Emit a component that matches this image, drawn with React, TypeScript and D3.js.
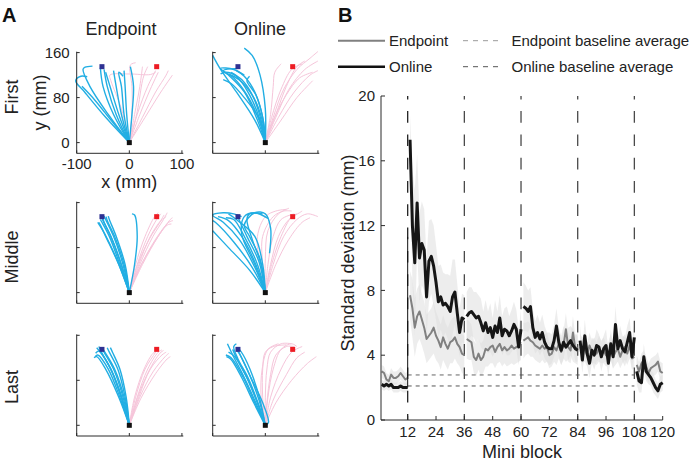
import React from "react";
import * as d3 from "d3";

// ---------- Panel B data ----------
const blockStarts = [1, 13, 37, 61, 85, 109];
const blockEnds = [12, 36, 60, 84, 108, 120];
const xTicksB = [12, 24, 36, 48, 60, 72, 84, 96, 108, 120];
const yTicksB = [0, 4, 8, 12, 16, 20];
const blockBoundaries = [12, 36, 60, 84, 108];
const endpointBaseline = 2.78;
const onlineBaseline = 2.1;

const endpointSD = [
  3.0, 2.9, 2.5, 2.4, 2.8, 2.6, 2.6, 2.7, 2.9, 2.7, 2.5, 2.6,
  7.7, 6.9, 5.7, 6.4, 6.7, 6.2, 5.7, 5.0, 5.2, 5.4, 5.7, 5.2, 4.9, 4.5, 5.1, 4.7, 4.4, 4.8, 4.9, 5.1, 4.7, 4.5, 4.1, 4.0,
  5.0, 4.9, 4.8, 3.9, 3.7, 4.1, 3.7, 3.9, 4.4, 4.3, 4.5, 4.6, 4.2, 4.5, 4.7, 4.3, 4.5, 4.3, 4.4, 4.6, 4.4, 4.5, 4.6, 4.8,
  4.9, 5.0, 5.1, 4.9, 4.8, 4.6, 4.5, 4.4, 4.6, 4.4, 4.5, 4.0, 4.1, 4.5, 4.3, 4.7, 4.2, 4.6, 5.6, 4.5, 4.3, 5.4, 4.4, 4.5,
  4.5, 4.3, 4.4, 4.0, 4.6, 4.2, 4.3, 4.1, 4.4, 4.2, 4.3, 4.0, 4.1, 4.5, 3.9, 4.2, 4.4, 3.9, 4.3, 4.5, 4.1, 4.6, 3.8, 3.9,
  3.4, 3.0, 3.5, 3.7, 3.3, 2.9, 3.2, 3.3, 3.4, 3.6, 3.0, 2.9,
];
const onlineSD = [
  2.2, 2.1, 2.2, 2.1, 2.2, 2.0, 2.0, 2.0, 2.1, 2.0, 2.0, 2.0,
  17.3, 12.0, 9.7, 13.4, 10.0, 10.9, 10.5, 7.6, 9.8, 10.1, 9.5, 8.5, 7.3, 7.6, 7.1, 7.2, 7.0, 6.7, 7.6, 7.9, 6.6, 5.4, 6.3, 6.2,
  6.4, 6.6, 6.7, 6.5, 6.3, 6.4, 6.0, 5.5, 6.0, 5.4, 5.7, 5.1, 5.8, 5.4, 6.3, 5.2, 5.6, 5.5, 5.2, 5.5, 5.9, 5.6, 4.5, 5.6,
  7.0, 6.9, 6.7, 7.0, 5.7, 5.1, 5.4, 5.0, 5.4, 4.8, 4.5, 4.4, 4.4, 4.9, 5.8, 4.8, 4.3, 4.8, 4.5, 4.7, 4.9, 4.6, 4.4, 4.3,
  4.9, 3.7, 5.2, 4.1, 3.5, 4.3, 4.0, 4.6, 4.5, 3.9, 4.4, 4.6, 3.5, 4.7, 3.9, 5.9, 4.4, 4.9, 4.4, 4.2, 4.8, 5.4, 3.9, 5.1,
  3.0, 2.4, 2.3, 3.9, 3.0, 2.8, 2.6, 2.3, 2.0, 1.8, 2.2, 2.3,
];
const onlineSpread = [
  0.3, 0.3, 0.3, 0.3, 0.3, 0.3, 0.3, 0.3, 0.3, 0.3, 0.3, 0.3,
  1.5, 3.5, 4.5, 3.0, 2.8, 2.6, 2.5, 2.4, 2.5, 2.3, 2.5, 2.3, 2.2, 2.0, 2.0, 1.8, 2.0, 2.2, 2.3, 2.0, 1.8, 1.5, 1.5, 1.5,
  1.5, 1.6, 1.5, 1.4, 1.6, 1.3, 1.5, 1.2, 1.4, 1.3, 1.5, 1.2, 1.6, 1.3, 1.4, 1.2, 1.3, 1.5, 1.2, 1.3, 1.4, 1.2, 1.1, 1.2,
  1.5, 1.4, 1.3, 1.2, 1.1, 1.0, 1.1, 1.0, 1.1, 1.0, 0.9, 1.0, 0.9, 1.0, 1.1, 0.9, 0.9, 1.0, 0.9, 1.0, 0.9, 1.0, 0.9, 0.9,
  0.9, 0.8, 1.0, 0.8, 0.9, 0.8, 0.9, 1.0, 0.8, 0.9, 0.8, 1.0, 0.8, 0.9, 0.8, 1.1, 0.8, 0.9, 0.8, 0.9, 1.0, 0.9, 0.8, 0.9,
  0.8, 0.7, 0.6, 0.8, 0.6, 0.6, 0.5, 0.6, 0.5, 0.5, 0.5, 0.5,
];
const endpointSpread = [
  0.4, 0.4, 0.4, 0.4, 0.4, 0.4, 0.4, 0.4, 0.4, 0.4, 0.4, 0.4,
  1.5, 1.8, 1.8, 1.7, 1.7, 1.6, 1.6, 1.5, 1.5, 1.5, 1.6, 1.5, 1.4, 1.4, 1.4, 1.3, 1.3, 1.3, 1.4, 1.3, 1.2, 1.2, 1.2, 1.2,
  1.2, 1.2, 1.1, 1.0, 1.0, 1.0, 1.0, 1.0, 1.1, 1.0, 1.0, 1.1, 1.0, 1.0, 1.1, 1.0, 1.0, 1.0, 1.0, 1.1, 1.0, 1.0, 1.0, 1.1,
  1.1, 1.0, 1.0, 1.0, 0.9, 0.9, 0.9, 0.9, 0.9, 0.9, 0.9, 0.8, 0.8, 0.9, 0.9, 0.9, 0.8, 0.9, 1.0, 0.9, 0.8, 1.0, 0.8, 0.9,
  0.8, 0.8, 0.8, 0.7, 0.8, 0.7, 0.8, 0.7, 0.8, 0.7, 0.8, 0.7, 0.7, 0.8, 0.7, 0.8, 0.8, 0.7, 0.8, 0.8, 0.7, 0.8, 0.7, 0.7,
  0.6, 0.6, 0.6, 0.6, 0.6, 0.6, 0.6, 0.6, 0.6, 0.6, 0.6, 0.6,
];

// ---------- Panel A data (trajectories in mm) ----------
type P = [number, number];
const targetLeft: P = [-52, 135];
const targetRight: P = [52, 135];
const startPos: P = [0, 0];
const xTicksA = [-100, 0, 100];
const yTicksA = [0, 80, 160];
const columnTitles = ["Endpoint", "Online"];
const rowTitles = ["First", "Middle", "Last"];

const endpointFirstBlue: P[][] = [
  [[0, 0], [-45, 45], [-85, 90], [-102, 110], [-92, 118], [-80, 117]],
  [[0, 0], [-40, 50], [-75, 100], [-88, 130], [-84, 134], [-70, 136]],
  [[0, 0], [-30, 50], [-50, 100], [-55, 133]],
  [[0, 0], [-25, 50], [-42, 100], [-48, 130]],
  [[0, 0], [-20, 50], [-35, 95], [-45, 125]],
  [[0, 0], [-15, 50], [-25, 100], [-30, 128]],
  [[0, 0], [-10, 50], [-15, 100], [-20, 125], [-12, 118]],
  [[0, 0], [-5, 50], [-8, 100], [-10, 128]],
  [[0, 0], [5, 50], [8, 100], [2, 135]],
  [[0, 0], [-35, 40], [-65, 75], [-90, 100]],
];
const endpointFirstPink: P[][] = [
  [[0, 0], [15, 50], [35, 100], [50, 128]],
  [[0, 0], [20, 50], [40, 95], [55, 125]],
  [[0, 0], [25, 45], [50, 90], [70, 120], [74, 128]],
  [[0, 0], [30, 45], [60, 90], [82, 120]],
  [[0, 0], [10, 50], [20, 100], [25, 135]],
  [[0, 0], [5, 50], [5, 100], [2, 138], [12, 142]],
  [[0, 0], [-15, 60], [-35, 110], [-37, 120], [0, 122], [40, 121], [50, 125]],
  [[0, 0], [15, 55], [25, 110], [30, 125], [35, 135]],
];
const onlineFirstBlue: P[][] = [
  [[0, 0], [-20, 40], [-55, 90], [-85, 130], [-100, 155]],
  [[0, 0], [-15, 40], [-40, 90], [-70, 120], [-85, 132], [-60, 130], [-40, 120]],
  [[0, 0], [-12, 40], [-35, 85], [-60, 115], [-80, 128], [-50, 132]],
  [[0, 0], [-10, 40], [-30, 85], [-55, 118], [-75, 125], [-85, 122]],
  [[0, 0], [-8, 40], [-25, 85], [-45, 112], [-65, 125]],
  [[0, 0], [-5, 45], [-20, 90], [-40, 118], [-55, 128]],
  [[0, 0], [-4, 40], [-18, 85], [-35, 110], [-30, 118]],
  [[0, 0], [0, 60], [-10, 120], [-25, 155], [-40, 168]],
  [[0, 0], [-10, 40], [-40, 80], [-65, 105], [-80, 112]],
  [[0, 0], [-6, 40], [-22, 80], [-50, 112], [-70, 122]],
];
const onlineFirstPink: P[][] = [
  [[0, 0], [10, 50], [15, 100], [18, 125], [30, 140]],
  [[0, 0], [15, 45], [35, 95], [60, 130], [85, 150], [100, 162]],
  [[0, 0], [20, 45], [45, 95], [75, 130], [100, 145]],
  [[0, 0], [25, 45], [55, 90], [85, 120], [100, 128]],
  [[0, 0], [15, 40], [40, 85], [65, 115], [90, 125]],
  [[0, 0], [20, 50], [40, 100], [60, 135], [75, 145]],
  [[0, 0], [12, 45], [30, 95], [50, 130], [70, 140]],
  [[0, 0], [30, 40], [60, 80], [90, 110]],
];
const endpointMiddleBlue: P[][] = [
  [[0, 0], [-15, 50], [-35, 100], [-50, 128], [-53, 135]],
  [[0, 0], [-18, 50], [-38, 100], [-52, 125], [-55, 130]],
  [[0, 0], [-12, 50], [-30, 100], [-45, 130], [-48, 136]],
  [[0, 0], [-10, 50], [-28, 100], [-42, 128], [-44, 135]],
  [[0, 0], [-20, 50], [-45, 100], [-55, 120], [-58, 125]],
  [[0, 0], [-8, 50], [-25, 100], [-38, 130], [-40, 136]],
  [[0, 0], [-14, 45], [-33, 95], [-48, 125], [-52, 138]],
  [[0, 0], [10, 50], [15, 100], [10, 138], [5, 140]],
  [[0, 0], [-22, 55], [-47, 105], [-60, 125]],
];
const endpointMiddlePink: P[][] = [
  [[0, 0], [15, 50], [35, 100], [52, 130], [60, 140]],
  [[0, 0], [20, 50], [45, 100], [65, 130], [72, 142]],
  [[0, 0], [22, 48], [50, 95], [75, 125], [83, 128]],
  [[0, 0], [18, 50], [40, 100], [60, 128], [70, 135]],
  [[0, 0], [25, 50], [55, 100], [78, 130], [82, 133]],
  [[0, 0], [12, 50], [30, 100], [48, 135], [55, 142]],
  [[0, 0], [20, 45], [48, 90], [72, 120], [80, 122]],
  [[0, 0], [16, 50], [38, 95], [58, 125], [66, 138]],
];
const onlineMiddleBlue: P[][] = [
  [[0, 0], [-30, 40], [-70, 80], [-100, 110]],
  [[0, 0], [-25, 45], [-60, 90], [-95, 125], [-100, 128]],
  [[0, 0], [-20, 45], [-50, 95], [-80, 125], [-100, 138], [-80, 142], [-60, 140], [-45, 135]],
  [[0, 0], [-18, 50], [-45, 100], [-70, 128], [-90, 135]],
  [[0, 0], [-15, 50], [-40, 100], [-60, 130], [-75, 133]],
  [[0, 0], [-12, 55], [-35, 100], [-50, 130], [-52, 135]],
  [[0, 0], [-10, 60], [-30, 100], [-40, 120], [-20, 142], [0, 140], [10, 115], [8, 70]],
  [[0, 0], [-8, 50], [-25, 95], [-35, 130], [-30, 140], [-5, 140]],
  [[0, 0], [-20, 50], [-45, 105], [-40, 135], [-20, 142], [5, 132]],
  [[0, 0], [-5, 50], [-20, 100], [-55, 130], [-70, 140]],
];
const onlineMiddlePink: P[][] = [
  [[0, 0], [-10, 50], [-15, 100], [0, 135], [20, 145], [40, 148]],
  [[0, 0], [-5, 50], [-5, 100], [15, 135], [35, 145], [50, 145]],
  [[0, 0], [10, 50], [25, 100], [45, 130], [65, 142], [70, 145]],
  [[0, 0], [15, 50], [35, 100], [60, 130], [80, 140], [100, 135]],
  [[0, 0], [5, 50], [15, 100], [30, 130], [55, 140]],
  [[0, 0], [20, 50], [45, 95], [70, 125], [85, 133]],
  [[0, 0], [0, 60], [5, 110], [25, 140], [45, 150]],
  [[0, 0], [12, 50], [30, 100], [50, 135], [60, 140]],
];
const endpointLastBlue: P[][] = [
  [[0, 0], [-15, 50], [-35, 100], [-55, 130], [-62, 138]],
  [[0, 0], [-18, 50], [-40, 100], [-60, 125], [-65, 122]],
  [[0, 0], [-12, 50], [-30, 100], [-48, 130], [-52, 138]],
  [[0, 0], [-10, 50], [-28, 100], [-45, 128], [-50, 135]],
  [[0, 0], [-20, 50], [-45, 100], [-62, 122], [-67, 120]],
  [[0, 0], [-8, 50], [-22, 100], [-38, 130], [-42, 138]],
  [[0, 0], [-14, 45], [-33, 95], [-50, 125], [-58, 140]],
  [[0, 0], [-6, 50], [-18, 100], [-32, 130], [-36, 138]],
  [[0, 0], [-16, 55], [-38, 105], [-58, 132], [-64, 128]],
];
const endpointLastPink: P[][] = [
  [[0, 0], [15, 50], [35, 100], [55, 130], [62, 134]],
  [[0, 0], [18, 50], [40, 100], [62, 125], [70, 130]],
  [[0, 0], [20, 50], [45, 95], [68, 122], [75, 128]],
  [[0, 0], [12, 50], [30, 100], [50, 130], [55, 138]],
  [[0, 0], [22, 48], [50, 92], [72, 118], [78, 122]],
  [[0, 0], [16, 50], [38, 98], [58, 128], [65, 133]],
  [[0, 0], [10, 50], [28, 100], [45, 128], [52, 132]],
];
const onlineLastBlue: P[][] = [
  [[0, 0], [-18, 40], [-40, 85], [-62, 125], [-72, 145]],
  [[0, 0], [-20, 40], [-42, 85], [-65, 120], [-75, 125]],
  [[0, 0], [-15, 40], [-35, 85], [-55, 120], [-62, 135]],
  [[0, 0], [-17, 45], [-38, 90], [-58, 122], [-70, 130]],
  [[0, 0], [-12, 45], [-30, 90], [-48, 125], [-55, 135]],
  [[0, 0], [-22, 40], [-45, 85], [-66, 118], [-74, 122]],
  [[0, 0], [-10, 45], [-25, 90], [-42, 125], [-52, 138]],
  [[0, 0], [-14, 40], [-33, 85], [-52, 118], [-60, 140], [-55, 145]],
  [[0, 0], [6, 5], [-5, 40], [-30, 90], [-50, 130]],
];
const onlineLastPink: P[][] = [
  [[0, 0], [-5, 50], [-5, 100], [0, 130], [15, 140], [40, 143]],
  [[0, 0], [0, 50], [3, 100], [10, 130], [30, 145], [50, 145]],
  [[0, 0], [5, 50], [15, 100], [30, 135], [50, 145], [60, 140]],
  [[0, 0], [10, 50], [30, 100], [50, 130], [70, 140]],
  [[0, 0], [20, 40], [50, 80], [80, 110], [97, 122]],
  [[0, 0], [15, 45], [40, 90], [60, 120], [75, 130]],
  [[0, 0], [-8, 50], [-6, 100], [5, 135], [25, 145]],
  [[0, 0], [3, 40], [10, 90], [20, 125], [40, 140], [55, 140]],
];

const trajectoryGrid = [
  [
    { blue: endpointFirstBlue, pink: endpointFirstPink },
    { blue: onlineFirstBlue, pink: onlineFirstPink },
  ],
  [
    { blue: endpointMiddleBlue, pink: endpointMiddlePink },
    { blue: onlineMiddleBlue, pink: onlineMiddlePink },
  ],
  [
    { blue: endpointLastBlue, pink: endpointLastPink },
    { blue: onlineLastBlue, pink: onlineLastPink },
  ],
];

const FONT = "'Liberation Sans', Arial, Helvetica, sans-serif";
const AXIS = "#2b2b2b";
const BLUE = "#22aee3";
const PINK = "#f6c5da";

// Panel A layout
const colLeft = [76.7, 212.7];
const rowBottom = [153.3, 303.3, 436];
const plotW = 106.6;
const plotH = 101.6;

function SmallPlot({ col, row }: { col: number; row: number }) {
  const left = colLeft[col];
  const bottom = rowBottom[row];
  const xs = d3.scaleLinear().domain([-100, 102.6]).range([left, left + plotW]);
  const ys = d3.scaleLinear().domain([-19, 161.6]).range([bottom, bottom - plotH]);
  const line = d3
    .line<P>()
    .x((d) => xs(d[0]))
    .y((d) => ys(d[1]))
    .curve(d3.curveCatmullRom.alpha(0.5));
  const data = trajectoryGrid[row][col];
  const labeled = row === 0 && col === 0;
  const sq = 5;
  return (
    <g>
      {data.pink.map((t, i) => (
        <path key={"p" + i} d={line(t) || ""} fill="none" stroke={PINK} strokeWidth={1} />
      ))}
      {data.blue.map((t, i) => (
        <path key={"b" + i} d={line(t) || ""} fill="none" stroke={BLUE} strokeWidth={1.4} />
      ))}
      <rect x={xs(targetLeft[0]) - sq / 2} y={ys(targetLeft[1]) - sq / 2} width={sq} height={sq} fill="#2e3192" />
      <rect x={xs(targetRight[0]) - sq / 2} y={ys(targetRight[1]) - sq / 2} width={sq} height={sq} fill="#ed1c24" />
      <rect x={xs(startPos[0]) - sq / 2} y={ys(startPos[1]) - sq / 2} width={sq} height={sq} fill="#111" />
      <line x1={left} x2={left + plotW} y1={bottom} y2={bottom} stroke={AXIS} strokeWidth={1} />
      <line x1={left} x2={left} y1={bottom} y2={bottom - plotH} stroke={AXIS} strokeWidth={1} />
      {yTicksA.map((t) => (
        <line key={"yt" + t} x1={left} x2={left + 3} y1={ys(t)} y2={ys(t)} stroke={AXIS} strokeWidth={1} />
      ))}
      {xTicksA.map((t) => (
        <line key={"xt" + t} x1={xs(t)} x2={xs(t)} y1={bottom} y2={bottom - 3} stroke={AXIS} strokeWidth={1} />
      ))}
      {labeled && (
        <g fontFamily={FONT} fill="#222">
          {yTicksA.map((t) => (
            <text key={"yl" + t} x={left - 7} y={ys(t)} dy="0.35em" textAnchor="end" fontSize={15}>
              {t}
            </text>
          ))}
          {xTicksA.map((t) => (
            <text key={"xl" + t} x={xs(t)} y={bottom + 16} textAnchor="middle" fontSize={15}>
              {t}
            </text>
          ))}
          <text x={xs(0)} y={bottom + 35} textAnchor="middle" fontSize={18}>
            x (mm)
          </text>
          <text transform={`translate(${left - 31},${bottom - plotH / 2}) rotate(-90)`} textAnchor="middle" fontSize={18}>
            y (mm)
          </text>
        </g>
      )}
    </g>
  );
}

function PanelA() {
  const rowCenters = [97, 257, 387];
  return (
    <g>
      <text x={2} y={22} fontFamily={FONT} fontWeight="bold" fontSize={20} fill="#111">
        A
      </text>
      {columnTitles.map((t, i) => (
        <text key={t} x={[121, 260][i]} y={35} textAnchor="middle" fontFamily={FONT} fontSize={18} fill="#222">
          {t}
        </text>
      ))}
      {rowTitles.map((t, i) => (
        <text
          key={t}
          transform={`translate(18,${rowCenters[i]}) rotate(-90)`}
          textAnchor="middle"
          fontFamily={FONT}
          fontSize={18}
          fill="#222"
        >
          {t}
        </text>
      ))}
      {[0, 1, 2].map((r) => [0, 1].map((c) => <SmallPlot key={r + "-" + c} row={r} col={c} />))}
    </g>
  );
}

function PanelB() {
  const xB = d3.scaleLinear().domain([0.7, 120]).range([381, 662.7]);
  const yB = d3.scaleLinear().domain([0, 20]).range([420, 96]);
  const blocks = blockStarts.map((s, i) => d3.range(s - 1, blockEnds[i]));
  const line = (vals: number[]) =>
    d3
      .line<number>()
      .x((i) => xB(i + 1))
      .y((i) => yB(vals[i]));
  const area = (vals: number[], spread: number[]) =>
    d3
      .area<number>()
      .x((i) => xB(i + 1))
      .y0((i) => yB(Math.max(0, vals[i] - spread[i])))
      .y1((i) => yB(vals[i] + spread[i]));
  const epLine = line(endpointSD);
  const onLine = line(onlineSD);
  const epArea = area(endpointSD, endpointSpread);
  const onArea = area(onlineSD, onlineSpread);
  return (
    <g fontFamily={FONT}>
      <text x={338} y={22} fontWeight="bold" fontSize={20} fill="#111">
        B
      </text>
      {/* legend */}
      <line x1={338} x2={385} y1={40.7} y2={40.7} stroke="#808080" strokeWidth={2} />
      <text x={389} y={46} fontSize={15} fill="#222">
        Endpoint
      </text>
      <line x1={338} x2={385} y1={66.7} y2={66.7} stroke="#111" strokeWidth={2.5} />
      <text x={389} y={72} fontSize={15} fill="#222">
        Online
      </text>
      <line x1={463} x2={503} y1={40.7} y2={40.7} stroke="#9a9a9a" strokeWidth={1} strokeDasharray="5,5" />
      <text x={511.5} y={46} fontSize={15} fill="#222">
        Endpoint baseline average
      </text>
      <line x1={463} x2={503} y1={66.7} y2={66.7} stroke="#555" strokeWidth={1} strokeDasharray="5,5" />
      <text x={511.5} y={72} fontSize={15} fill="#222">
        Online baseline average
      </text>

      {/* bands */}
      {blocks.map((b, k) => (
        <path key={"ea" + k} d={epArea(b) || ""} fill="#dedede" fillOpacity={0.55} stroke="none" />
      ))}
      {blocks.map((b, k) => (
        <path key={"oa" + k} d={onArea(b) || ""} fill="#dedede" fillOpacity={0.55} stroke="none" />
      ))}

      {/* baselines */}
      <line
        x1={xB(12)}
        x2={xB(108)}
        y1={yB(endpointBaseline)}
        y2={yB(endpointBaseline)}
        stroke="#666"
        strokeWidth={1}
        strokeDasharray="4,4"
      />
      <line
        x1={xB(12)}
        x2={xB(108)}
        y1={yB(onlineBaseline)}
        y2={yB(onlineBaseline)}
        stroke="#555"
        strokeWidth={1}
        strokeDasharray="4,4"
      />
      {/* block boundaries */}
      {blockBoundaries.map((b) => (
        <line
          key={"bb" + b}
          x1={xB(b)}
          x2={xB(b)}
          y1={yB(20)}
          y2={yB(0)}
          stroke={b === 12 ? "#222" : "#4a4a4a"}
          strokeWidth={1.3}
          strokeDasharray="11.7,11.6"
          strokeDashoffset={8.2}
        />
      ))}

      {/* series */}
      {blocks.map((b, k) => (
        <path key={"el" + k} d={epLine(b) || ""} fill="none" stroke="#808080" strokeWidth={2} strokeLinejoin="round" />
      ))}
      <line
        x1={xB(12)}
        x2={xB(12)}
        y1={yB(onlineSD[11])}
        y2={yB(onlineSD[12] - 6)}
        stroke="#111"
        strokeWidth={1}
      />
      {blocks.map((b, k) => (
        <path key={"ol" + k} d={onLine(b) || ""} fill="none" stroke="#161616" strokeWidth={3} strokeLinejoin="round" />
      ))}

      {/* axes */}
      <line x1={381} x2={662.7} y1={420} y2={420} stroke={AXIS} strokeWidth={1} />
      <line x1={381} x2={381} y1={96} y2={420} stroke={AXIS} strokeWidth={1} />
      {yTicksB.map((t) => (
        <g key={"ybt" + t}>
          <line x1={381} x2={385} y1={yB(t)} y2={yB(t)} stroke={AXIS} strokeWidth={1} />
          <text x={375} y={yB(t)} dy="0.35em" textAnchor="end" fontSize={15} fill="#222">
            {t}
          </text>
        </g>
      ))}
      {xTicksB.map((t) => (
        <g key={"xbt" + t}>
          <line x1={xB(t)} x2={xB(t)} y1={420} y2={416} stroke={AXIS} strokeWidth={1} />
          <text x={xB(t)} y={437} textAnchor="middle" fontSize={15} fill="#222">
            {t}
          </text>
        </g>
      ))}
      <text x={522} y={458} textAnchor="middle" fontSize={18} fill="#222">
        Mini block
      </text>
      <text transform="translate(354,253) rotate(-90)" textAnchor="middle" fontSize={18} fill="#222">
        Standard deviation (mm)
      </text>
    </g>
  );
}

export default function App() {
  return (
    <svg
      width={696}
      height={466}
      viewBox="0 0 696 466"
      style={{ position: "absolute", left: 0, top: 0, background: "#fff" }}
    >
      <rect width={696} height={466} fill="#fff" />
      <PanelA />
      <PanelB />
    </svg>
  );
}
